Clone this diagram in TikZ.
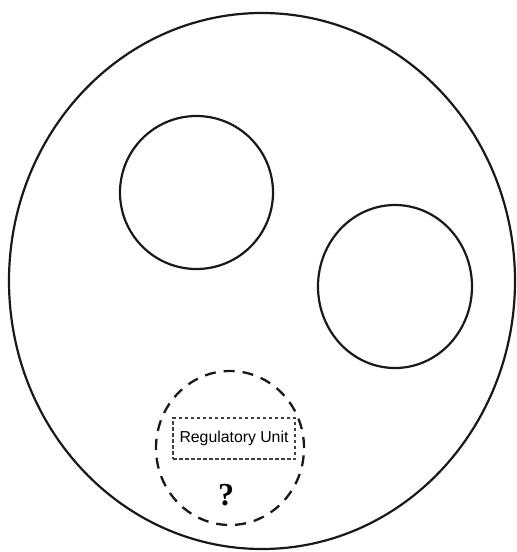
\documentclass[tikz,border=0pt]{standalone}
\usepackage{fontspec}
\setmainfont{Liberation Serif}
\newfontfamily\labelfont{Liberation Sans}
\usetikzlibrary{shapes.geometric}
\begin{document}
\begin{tikzpicture}[x=1pt,y=-1pt,
  solidring/.style={draw=black!90,line width=2.2pt,ellipse,inner sep=0pt,fill=none},
  dashring/.style={draw=black!90,line width=2.3pt,ellipse,inner sep=0pt,dash pattern=on 11pt off 8pt},
  unitbox/.style={draw=black!75,line width=1.1pt,dash pattern=on 3.5pt off 2.5pt,minimum width=122pt,minimum height=41pt,inner sep=0pt,font=\labelfont\fontsize{15.8}{18}\selectfont},
  qmark/.style={font=\bfseries\fontsize{32}{34}\selectfont,inner sep=0pt}]
\useasboundingbox (0,0) rectangle (517,552);
\node[solidring,minimum width=506pt,minimum height=536pt] (cell) at (262,281) {};
\node[solidring,minimum width=153pt,minimum height=153pt] (orgA) at (196.5,192.5) {};
\node[solidring,minimum width=154pt,minimum height=163pt] (orgB) at (395,286.5) {};
\node[dashring,minimum width=148pt,minimum height=154pt] (unk) at (230,448) {};
\node[unitbox] (reg) at (234,438.5) {Regulatory Unit};
\node[qmark] (q) at (226,495) {?};
\end{tikzpicture}
\end{document}
